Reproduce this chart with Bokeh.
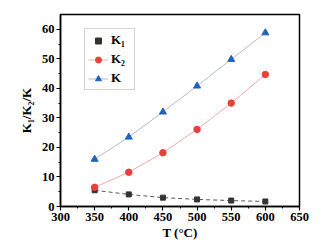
from bokeh.plotting import figure
from bokeh.models import Legend, LegendItem, Range1d, FixedTicker
from bokeh.embed import file_html
from bokeh.resources import INLINE

T = [350, 400, 450, 500, 550, 600]
K1 = [5.5, 4.1, 3.0, 2.4, 2.0, 1.7]
K2 = [6.5, 11.6, 18.2, 26.1, 35.0, 44.7]
K = [16.0, 23.5, 32.0, 40.8, 49.8, 58.8]
x_ticks = [300, 350, 400, 450, 500, 550, 600, 650]
y_ticks = [0, 10, 20, 30, 40, 50, 60]

FONT = "Liberation Serif"

p = figure(width=330, height=245, output_backend="svg", toolbar_location=None,
           x_range=Range1d(300, 650), y_range=Range1d(0, 65),
           min_border_left=60, min_border_right=31, min_border_top=14, min_border_bottom=39)
p.frame_width = 239
p.frame_height = 192
p.grid.visible = False
p.background_fill_color = "white"
p.border_fill_color = "white"
p.outline_line_color = "black"
p.outline_line_width = 1.5

for ax in (p.xaxis[0], p.yaxis[0]):
    ax.axis_line_width = 1.5
    ax.major_tick_line_width = 1.2
    ax.minor_tick_line_width = 1.0
    ax.major_tick_in = 0
    ax.major_tick_out = 4
    ax.minor_tick_in = 0
    ax.minor_tick_out = 2
    ax.major_label_text_font = FONT
    ax.major_label_text_font_style = "bold"
    ax.major_label_text_font_size = "12.5px"
    ax.major_label_text_color = "black"
    ax.axis_label_text_font = FONT
    ax.axis_label_text_font_style = "bold"
    ax.axis_label_text_font_size = "13px"
    ax.axis_label_text_color = "black"

p.xaxis[0].ticker = FixedTicker(ticks=x_ticks, minor_ticks=[325, 375, 425, 475, 525, 575, 625])
p.yaxis[0].ticker = FixedTicker(ticks=y_ticks, minor_ticks=[5, 15, 25, 35, 45, 55])
p.xaxis[0].axis_label = "T (°C)"
p.yaxis[0].axis_label = "K₁/K₂/K"
p.xaxis[0].axis_label_standoff = 1
p.yaxis[0].axis_label_standoff = 5
p.xaxis[0].major_label_standoff = 2
p.yaxis[0].major_label_standoff = 2

c1, c2, c3 = "#333333", "#e8413c", "#1f62c0"

l1 = p.line(T, K1, line_color="#444444", line_width=0.9, line_dash="4 3")
s1 = p.scatter(T, K1, marker="square", size=5, fill_color=c1, line_color=c1)
l2 = p.line(T, K2, line_color="#f0a0a0", line_width=0.9)
s2 = p.scatter(T, K2, marker="circle", size=6.5, fill_color=c2, line_color=c2)
l3 = p.line(T, K, line_color="#a9b6c8", line_width=0.9)
s3 = p.scatter(T, K, marker="triangle", size=7, fill_color=c3, line_color=c3)

legend = Legend(items=[
    LegendItem(label="K₁", renderers=[s1]),
    LegendItem(label="K₂", renderers=[l2, s2]),
    LegendItem(label="K", renderers=[l3, s3]),
], location=(24, 116))
legend.label_text_font = FONT
legend.label_text_font_style = "bold"
legend.label_text_font_size = "13px"
legend.label_text_color = "black"
legend.border_line_color = "#aaaaaa"
legend.border_line_width = 1
legend.glyph_width = 20
legend.glyph_height = 15
legend.label_height = 15
legend.spacing = 3
legend.padding = 3
legend.margin = 0
legend.label_standoff = 3
legend.background_fill_alpha = 1
p.add_layout(legend)

open("out.html", "w").write(file_html(p, INLINE))
